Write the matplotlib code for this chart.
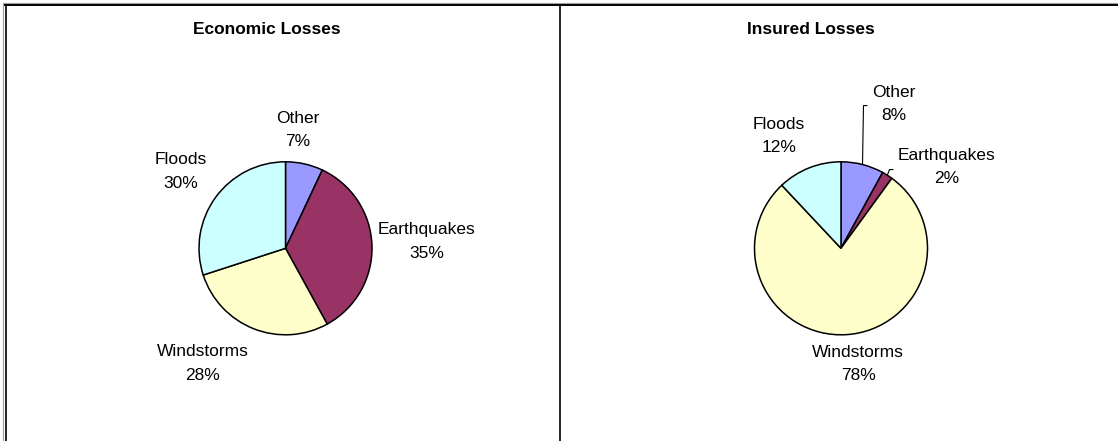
import matplotlib.pyplot as plt
import numpy as np
from matplotlib.lines import Line2D

plt.rcParams['font.family'] = ['Liberation Sans', 'DejaVu Sans']

categories = ["Other", "Earthquakes", "Windstorms", "Floods"]
economic = [7, 35, 28, 30]
insured = [8, 2, 78, 12]
titles = ["Economic Losses", "Insured Losses"]

colors = ["#9999FF", "#993366", "#FFFFCC", "#CCFFFF"]

W, H = 1118, 441
R = 86.5  # pie radius in pixels

# label centres, in pie radii from the pie centre
econ_label_pos = [(0.14, 1.37), (1.63, 0.08), (-0.96, -1.33), (-1.21, 0.89)]
ins_label_pos = [(0.61, 1.67), (1.22, 0.94), (0.20, -1.34), (-0.72, 1.30)]
# elbow and tick end of the leader lines (only for dragged labels)
ins_leaders = {0: [(0.26, 1.65), (0.30, 1.65)],
               1: [(0.56, 0.91), (0.60, 0.91)]}


def draw_pie(x0, x1, cx, cy, values, label_pos, leaders=None):
    ax = fig.add_axes([x0 / W, 0, (x1 - x0) / W, 1])
    ax.pie(values, colors=colors, startangle=90, counterclock=False,
           radius=1, wedgeprops=dict(edgecolor="black", linewidth=1.1))
    # one radius = R pixels on both axes
    ax.set_aspect("auto")
    ax.set_xlim((x0 - cx) / R, (x1 - cx) / R)
    ax.set_ylim((cy - H) / R, cy / R)
    ax.set_axis_off()
    total = float(sum(values))
    start = 90.0
    for i, (name, v) in enumerate(zip(categories, values)):
        mid = np.deg2rad(start - v / total * 360 / 2)
        start -= v / total * 360
        x, y = label_pos[i]
        ax.text(x, y, f"{name}\n{v}%", ha="center", va="center",
                fontsize=12.5, linespacing=1.7)
        if leaders and i in leaders:
            pts = [(np.cos(mid), np.sin(mid))] + leaders[i]
            xs, ys = zip(*pts)
            ax.plot(xs, ys, color="black", lw=0.8)
    return ax


fig = plt.figure(figsize=(W / 100, H / 100), dpi=100)

ax1 = draw_pie(5, 559, 285.5, 248.3, economic, econ_label_pos)
ax2 = draw_pie(559, W, 841.0, 248.3, insured, ins_label_pos, ins_leaders)

fig.text(267 / W, 1 - 29 / H, titles[0], ha="center", va="center",
         fontsize=12.5, fontweight="bold")
fig.text(811 / W, 1 - 29 / H, titles[1], ha="center", va="center",
         fontsize=12.5, fontweight="bold")


# panel frames
def fline(xs, ys, **kw):
    fig.add_artist(Line2D([x / W for x in xs], [1 - y / H for y in ys],
                          transform=fig.transFigure, **kw))


fline([3, W], [3, 3], color="#a0a0a0", lw=0.8)
fline([3, 3], [3, H], color="#a0a0a0", lw=0.8)
fline([5, W], [5, 5], color="black", lw=1.4)
fline([5.5, 5.5], [5, H], color="black", lw=1.2)
fline([559.5, 559.5], [5, H], color="black", lw=1.2)

fig.savefig("out.png", dpi=100)
